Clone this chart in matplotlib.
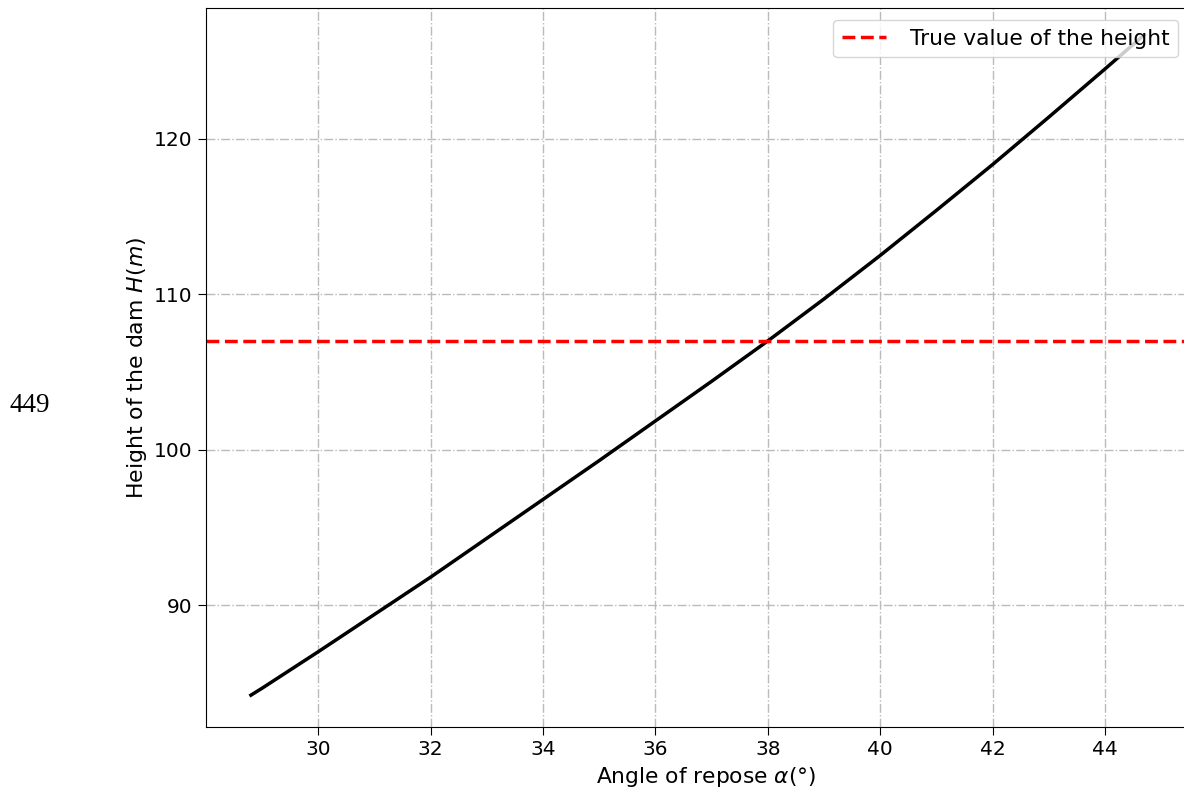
import numpy as np
import matplotlib
matplotlib.use("Agg")
import matplotlib.pyplot as plt

# values
angle = [28.8, 29, 30, 31, 32, 33, 34, 35, 36, 37, 38, 39, 40, 41, 42, 43, 44, 44.7]
height = [84.2, 84.65, 87.0, 89.4, 91.8, 94.3, 96.8, 99.3, 101.85, 104.4, 107.0,
          109.7, 112.5, 115.4, 118.35, 121.4, 124.5, 126.7]
true_height = 107.0

fig = plt.figure(figsize=(11.84, 7.98), dpi=100)
ax = fig.add_axes([206 / 1184, 1 - 727 / 798, 1000 / 1184, 719 / 798])

ax.plot(angle, height, color='black', linewidth=2.5)
ax.axhline(true_height, color='red', linestyle='--', linewidth=2.5,
           label='True value of the height')

ax.set_xlim(28.0, 45.8)
ax.set_ylim(82.15, 128.43)
ax.set_xticks([30, 32, 34, 36, 38, 40, 42, 44])
ax.set_yticks([90, 100, 110, 120])
ax.tick_params(labelsize=14.5, length=6)
ax.grid(True, linestyle='-.', color='#bbbbbb', linewidth=1)
ax.spines['right'].set_visible(False)

ax.set_xlabel(r'Angle of repose $\alpha(°)$', fontsize=15.7)
ax.set_ylabel(r'Height of the dam $H(m)$', fontsize=15.8)
ax.legend(loc='upper right', fontsize=15.7, handlelength=2.0, handletextpad=1.1,
          borderaxespad=0, bbox_to_anchor=(1178 / 1184, 1 - 20 / 798),
          bbox_transform=fig.transFigure)

fig.text(10 / 1184, 1 - 406 / 798, '449', family='Liberation Serif', fontsize=19.5,
         va='center', ha='left')

fig.savefig('out.png', dpi=100)
